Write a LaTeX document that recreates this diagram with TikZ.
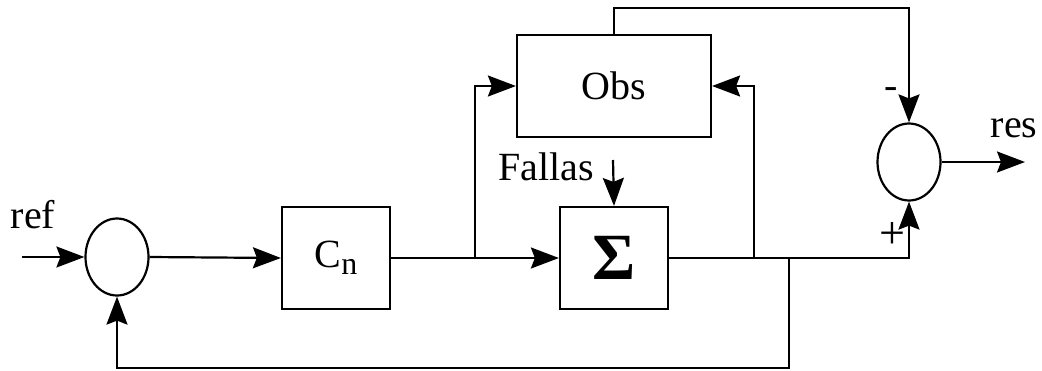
\documentclass[tikz,border=0pt]{standalone}
\usepackage{fontspec}
\setmainfont{Liberation Serif}
\usetikzlibrary{shapes.geometric,arrows.meta}
\begin{document}
\begin{tikzpicture}[x=0.5pt,y=-0.5pt, line width=1.1pt,
  blk/.style={draw, rectangle, inner sep=0pt, font=\fontsize{20}{24}\selectfont},
  sum/.style={draw, ellipse, minimum width=31.5pt, minimum height=38.5pt, inner sep=0pt},
  arr/.style={-{Stealth[length=14pt,width=10.5pt,inset=2pt]}},
  lbl/.style={font=\fontsize{20}{24}\selectfont, inner sep=0pt}]
\useasboundingbox (0,0) rectangle (1042,370);
% blocks
\node[sum] (s1) at (117,257) {};
\node[sum] (s2) at (909,162) {};
\node[blk, minimum width=54pt, minimum height=51pt] (cn) at (336,258)
  {C\raisebox{-0.4ex}{\fontsize{16}{16}\selectfont n}};
\node[blk, minimum width=54pt, minimum height=51pt] (sig) at (614,258)
  {\fontsize{33}{36}\selectfont\bfseries Σ};
\node[blk, minimum width=97pt, minimum height=51pt] (obs) at (614,86) {Obs};
% coordinates
\coordinate (in) at (22,257);
\coordinate (b1) at (475,258);
\coordinate (b2) at (754,258);
\coordinate (b3) at (789,258);
\coordinate (c3) at (789,368);
\coordinate (t1) at (614,8);
\coordinate (out) at (1025,162);
\coordinate (f) at (613,160);
% connectors
\draw[arr] (in) -- (s1.west);
\draw[arr] (s1.east) -- (cn.west);
\draw[arr] (cn.east) -- (sig.west);
\draw[arr] (b1) |- (obs.west);
\draw[arr] (b2) |- (obs.east);
\draw[arr] (sig.east) -| (s2.south);
\draw[arr] (b3) -- (c3) -| (s1.south);
\draw[arr] (obs.north) -- (t1) -| (s2.north);
\draw[arr] (s2.east) -- (out);
\draw[arr] (f) -- (sig.north);
% labels
\node[lbl, anchor=base] (lref) at (33,228) {ref};
\node[lbl, anchor=base] (lfal) at (546,180) {Fallas};
\node[lbl, anchor=base] (lres) at (1014,137) {res};
\node[lbl] (lminus) at (891,93) {-};
\node[lbl, font=\fontsize{23}{26}\selectfont] (lplus) at (892,236) {+};
\end{tikzpicture}
\end{document}
